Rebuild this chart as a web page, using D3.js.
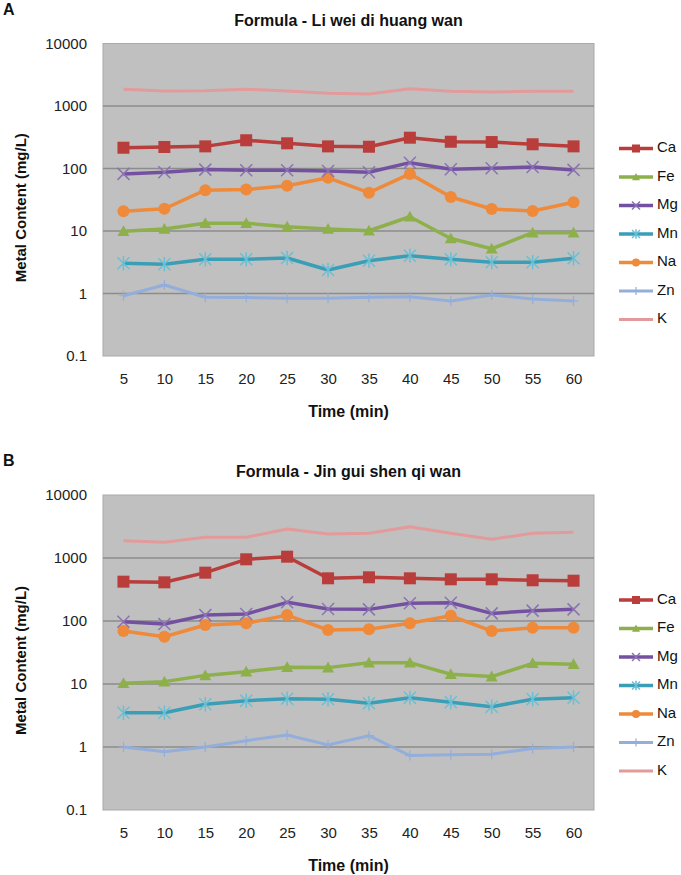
<!DOCTYPE html>
<html>
<head>
<meta charset="utf-8">
<script src="https://cdn.jsdelivr.net/npm/d3@7"></script>
<style>
  body { margin: 0; background: #fff; }
  svg { display: block; font-family: "Liberation Sans", Arial, sans-serif; }
</style>
</head>
<body>
<div id="chart"></div>
<script>
// x categories (minutes) and y ticks
const times = [5, 10, 15, 20, 25, 30, 35, 40, 45, 50, 55, 60];
const yTicks = [0.1, 1, 10, 100, 1000, 10000];
const metals = ["Ca", "Fe", "Mg", "Mn", "Na", "Zn", "K"];

// Panel A - Li wei di huang wan (mg/L)
const caA = [215, 221, 226, 283, 253, 226, 223, 311, 268, 265, 244, 226];
const feA = [9.9, 10.8, 13.3, 13.3, 11.7, 10.8, 10.1, 16.9, 7.6, 5.2, 9.4, 9.4];
const mgA = [82, 87, 96, 94, 94, 91, 87, 124, 97, 101, 106, 95];
const mnA = [3.04, 2.93, 3.52, 3.52, 3.7, 2.38, 3.35, 4.03, 3.52, 3.16, 3.16, 3.66];
const naA = [20.7, 22.7, 45, 46, 53, 71, 41, 82, 35, 22.5, 20.9, 28.8];
const znA = [0.92, 1.37, 0.87, 0.86, 0.84, 0.84, 0.87, 0.89, 0.76, 0.95, 0.82, 0.76];
const kA = [1850, 1740, 1760, 1850, 1740, 1600, 1560, 1890, 1720, 1680, 1720, 1720];

// Panel B - Jin gui shen qi wan (mg/L)
const caB = [421, 411, 585, 953, 1049, 476, 494, 476, 459, 459, 443, 436];
const feB = [10.3, 10.9, 13.7, 15.7, 18.4, 18.2, 21.8, 21.8, 14.3, 13.1, 21.3, 20.6];
const mgB = [97.5, 89.6, 124, 129, 198, 155, 153, 191, 195, 132, 146, 153];
const mnB = [3.5, 3.5, 4.76, 5.43, 5.85, 5.72, 4.94, 6.07, 5.13, 4.36, 5.72, 6.07];
const naB = [69.4, 56.3, 86.4, 91.9, 124, 72, 73.8, 91.9, 121, 69.4, 78.3, 78.3];
const znB = [1.0, 0.84, 1.0, 1.26, 1.55, 1.08, 1.51, 0.73, 0.75, 0.77, 0.95, 1.0];
const kB = [1880, 1780, 2130, 2130, 2890, 2400, 2470, 3140, 2470, 1980, 2470, 2560];

// style per metal
const styles = {
    Ca: { color: "#b83d3b", marker: "square", width: 3.5 },
    Fe: { color: "#8db04b", marker: "triangle", width: 3.5 },
    Mg: { color: "#7451a0", marker: "x", width: 3.5, mcolor: "#8a72b4" },
    Mn: { color: "#3a9fb6", marker: "star", width: 3.5, mcolor: "#69bfd3" },
    Na: { color: "#ee8a3a", marker: "circle", width: 3.5 },
    Zn: { color: "#93aedb", marker: "plus", width: 3 },
    K:  { color: "#e39a9a", marker: "none", width: 3 }
};

const W = 681, H = 875;
const svg = d3.select("#chart").append("svg").attr("width", W).attr("height", H);

const panels = [
    { letter: "A", title: "Formula - Li wei di huang wan", xLabel: "Time  (min)", top: 43.5, bottom: 356,
      data: { Ca: caA, Fe: feA, Mg: mgA, Mn: mnA, Na: naA, Zn: znA, K: kA } },
    { letter: "B", title: "Formula - Jin gui shen qi wan", xLabel: "Time (min)", top: 495, bottom: 810,
      data: { Ca: caB, Fe: feB, Mg: mgB, Mn: mnB, Na: naB, Zn: znB, K: kB } }
];

function drawMarker(g, type, color, size) {
    const s = size / 2;
    if (type === "square") {
        g.append("rect").attr("x", -s).attr("y", -s).attr("width", size).attr("height", size).attr("fill", color);
    } else if (type === "circle") {
        g.append("circle").attr("r", s).attr("fill", color);
    } else if (type === "triangle") {
        g.append("path").attr("d", `M0,${-s}L${s},${s * 0.8}L${-s},${s * 0.8}Z`).attr("fill", color);
    } else if (type === "x") {
        g.append("path").attr("d", `M${-s},${-s}L${s},${s}M${-s},${s}L${s},${-s}`)
            .attr("stroke", color).attr("stroke-width", 1.5).attr("fill", "none");
    } else if (type === "star") {
        g.append("path").attr("d", `M${-s},${-s}L${s},${s}M${-s},${s}L${s},${-s}M0,${-s * 1.2}V${s * 1.2}`)
            .attr("stroke", color).attr("stroke-width", 1.5).attr("fill", "none");
    } else if (type === "plus") {
        g.append("path").attr("d", `M0,${-s}V${s}M${-s},0H${s}`)
            .attr("stroke", color).attr("stroke-width", 1.2).attr("fill", "none");
    }
}

panels.forEach(p => {
    const left = 103, right = 594;
    const x = d3.scalePoint().domain(times).range([left, right]).padding(0.5);
    const y = d3.scaleLog().domain([0.1, 10000]).range([p.bottom, p.top]);
    const g = svg.append("g");

    // plot background
    g.append("rect")
        .attr("x", left).attr("y", p.top)
        .attr("width", right - left).attr("height", p.bottom - p.top)
        .attr("fill", "#c0c0c0").attr("stroke", "#a9a9a9").attr("stroke-width", 1);

    // gridlines
    g.selectAll("line.grid")
        .data([1, 10, 100, 1000])
        .enter().append("line")
        .attr("x1", left).attr("x2", right)
        .attr("y1", d => y(d)).attr("y2", d => y(d))
        .attr("stroke", "#8c8c8c").attr("stroke-width", 1.5);

    // y axis
    const yAxis = g.append("g")
        .attr("transform", `translate(${left - 6},0)`)
        .call(d3.axisLeft(y).tickValues(yTicks).tickSize(0).tickPadding(10)
            .tickFormat(d => d < 1 ? "0.1" : d3.format("d")(d)));
    yAxis.select(".domain").remove();
    yAxis.selectAll("text").attr("font-size", 15).attr("fill", "#222")
        .attr("font-family", "'Liberation Sans', Arial, sans-serif");

    // x axis
    const xAxis = g.append("g")
        .attr("transform", `translate(0,${p.bottom + 17})`)
        .call(d3.axisBottom(x).tickSize(0).tickPadding(0));
    xAxis.select(".domain").remove();
    xAxis.selectAll("text").attr("font-size", 15).attr("fill", "#222")
        .attr("font-family", "'Liberation Sans', Arial, sans-serif");

    // labels
    const mid = (left + right) / 2;
    g.append("text").attr("x", mid).attr("y", p.top - 22).attr("text-anchor", "middle")
        .attr("dominant-baseline", "middle").attr("font-size", 16).attr("font-weight", "bold")
        .attr("fill", "#111").text(p.title);
    g.append("text").attr("x", 3).attr("y", p.top - 33)
        .attr("dominant-baseline", "middle").attr("font-size", 16).attr("font-weight", "bold")
        .attr("fill", "#111").text(p.letter);
    g.append("text").attr("x", mid).attr("y", p.bottom + 57).attr("text-anchor", "middle")
        .attr("dominant-baseline", "middle").attr("font-size", 16).attr("font-weight", "bold")
        .attr("fill", "#111").text(p.xLabel);
    const yMid = (p.top + p.bottom) / 2 + 8;
    g.append("text").attr("transform", `translate(22,${yMid}) rotate(-90)`)
        .attr("text-anchor", "middle").attr("dominant-baseline", "middle")
        .attr("font-size", 15).attr("font-weight", "bold").attr("fill", "#111")
        .text("Metal Content (mg/L)");

    // series, K drawn first so others sit on top
    const order = ["K", "Zn", "Mn", "Fe", "Na", "Mg", "Ca"];
    const line = d3.line().x((d, i) => x(times[i])).y(d => y(d));
    order.forEach(m => {
        const st = styles[m];
        const vals = p.data[m];
        g.append("path").datum(vals)
            .attr("d", line).attr("fill", "none")
            .attr("stroke", st.color).attr("stroke-width", st.width)
            .attr("stroke-linejoin", "round");
        if (st.marker !== "none") {
            vals.forEach((v, i) => {
                const mg = g.append("g").attr("transform", `translate(${x(times[i])},${y(v)})`);
                const size = (st.marker === "plus") ? 10 : 12;
                drawMarker(mg, st.marker, st.mcolor || st.color, size);
            });
        }
    });

    // legend
    const lg = g.append("g").attr("transform", `translate(619,${p.top + 105})`);
    metals.forEach((m, i) => {
        const st = styles[m];
        const row = lg.append("g").attr("transform", `translate(0,${i * 28.5})`);
        row.append("line").attr("x1", 0).attr("x2", 34).attr("y1", 0).attr("y2", 0)
            .attr("stroke", st.color).attr("stroke-width", st.width);
        if (st.marker !== "none") {
            const mk = row.append("g").attr("transform", "translate(17,0)");
            drawMarker(mk, st.marker, st.mcolor || st.color, 8);
        }
        row.append("text").attr("x", 38).attr("y", 0).attr("dominant-baseline", "middle")
            .attr("font-size", 15).attr("fill", "#111").text(m);
    });
});
</script>
</body>
</html>
